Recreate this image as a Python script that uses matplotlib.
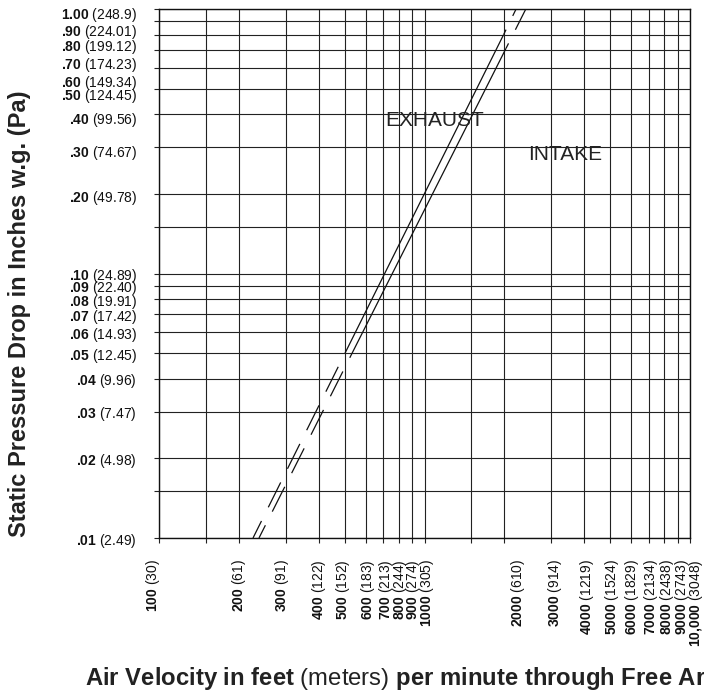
import matplotlib
matplotlib.use('Agg')
import matplotlib.pyplot as plt
import matplotlib.transforms as mtransforms
from matplotlib.ticker import FixedLocator, FixedFormatter, NullFormatter, NullLocator

plt.rcParams['font.family'] = ['Liberation Sans', 'DejaVu Sans']
plt.rcParams['mathtext.fontset'] = 'custom'
# math "rm" is used for the bold parts of the mixed-weight labels
plt.rcParams['mathtext.rm'] = 'Liberation Sans:bold'
plt.rcParams['mathtext.bf'] = 'Liberation Sans:bold'
plt.rcParams['mathtext.it'] = 'Liberation Sans:italic'
plt.rcParams['lines.scale_dashes'] = False

# ---------------- data ----------------
# grid lines (feet per minute / inches w.g.)
velocity_grid = [100, 150, 200, 300, 400, 500, 600, 700, 800, 900, 1000,
                 1500, 2000, 3000, 4000, 5000, 6000, 7000, 8000, 9000, 10000]
pressure_grid = [0.01, 0.015, 0.02, 0.03, 0.04, 0.05, 0.06, 0.07, 0.08, 0.09, 0.1,
                 0.15, 0.2, 0.3, 0.4, 0.5, 0.6, 0.7, 0.8, 0.9, 1.0]

# x tick labels
velocity_fpm = ['100', '200', '300', '400', '500', '600', '700', '800', '900', '1000',
                '2000', '3000', '4000', '5000', '6000', '7000', '8000', '9000', '10,000']
velocity_mpm = ['30', '61', '91', '122', '152', '183', '213', '244', '274', '305',
                '610', '914', '1219', '1524', '1829', '2134', '2438', '2743', '3048']
velocity_label_pos = [95, 200, 291, 400, 493, 612, 716, 808, 905, 1022,
                      2249, 3101, 4093, 5084, 6046, 7129, 8185, 9333, 10535]

# y tick labels
pressure_in = ['1.00', '.90', '.80', '.70', '.60', '.50', '.40', '.30', '.20',
               '.10', '.09', '.08', '.07', '.06', '.05', '.04', '.03', '.02', '.01']
pressure_pa = ['248.9', '224.01', '199.12', '174.23', '149.34', '124.45', '99.56', '74.67', '49.78',
               '24.89', '22.40', '19.91', '17.42', '14.93', '12.45', '9.96', '7.47', '4.98', '2.49']
pressure_label_pos = [0.966, 0.840, 0.731, 0.626, 0.535, 0.478, 0.388, 0.291, 0.197,
                      0.1, 0.09, 0.08, 0.07, 0.06, 0.05, 0.04, 0.03, 0.02, 0.01]

# curves: points (bottom, solid start, solid end, top)
exhaust_v = [226, 502, 1986, 2213]
exhaust_p = [0.01, 0.05, 0.80, 1.0]
intake_v = [238, 523, 2028, 2408]
intake_p = [0.01, 0.048, 0.71, 1.0]

# ---------------- figure ----------------
W, H = 704, 694
fig = plt.figure(figsize=(W / 100, H / 100), dpi=100)
ax = fig.add_axes([159 / W, 1 - 538 / H, (690 - 159) / W, (538 - 9) / H])
ax.set_xscale('log')
ax.set_yscale('log')
ax.set_xlim(100, 10000)
ax.set_ylim(0.01, 1.0)

ax.xaxis.remove_overlapping_locs = False
ax.yaxis.remove_overlapping_locs = False

# x: grid/ticks only at grid values, labels as separate texts
ax.xaxis.set_major_locator(FixedLocator(velocity_grid))
ax.xaxis.set_major_formatter(NullFormatter())
ax.xaxis.set_minor_locator(NullLocator())

# y: labels via major ticks, grid via minor ticks
ax.yaxis.set_major_locator(FixedLocator(pressure_label_pos))
ax.yaxis.set_major_formatter(FixedFormatter(
    [r'$\text{%s}$ (%s)' % (a, b) for a, b in zip(pressure_in, pressure_pa)]))
ax.yaxis.set_minor_locator(FixedLocator(pressure_grid))
ax.yaxis.set_minor_formatter(NullFormatter())

ax.tick_params(axis='x', which='major', length=3.6, width=0.8, direction='out', color='#222222')
ax.tick_params(axis='y', which='major', length=0, pad=16, labelsize=10, labelcolor='#111111')
ax.tick_params(axis='y', which='minor', length=3.6, width=0.8, direction='out', color='#222222')

ax.grid(False)
ax.xaxis.grid(True, which='major', color='#222222', linewidth=0.8)
ax.yaxis.grid(True, which='minor', color='#222222', linewidth=0.8)
for s in ax.spines.values():
    s.set_linewidth(1.0)
    s.set_color('#111111')

xlab_tr = mtransforms.blended_transform_factory(ax.transData, ax.transAxes)
for pos, a, b in zip(velocity_label_pos, velocity_fpm, velocity_mpm):
    ax.text(pos, -21 / 529, r'$\text{%s}$ (%s)' % (a, b), transform=xlab_tr,
            rotation=90, ha='center', va='top', fontsize=10, color='#111111', clip_on=False)

line_kw = dict(color='#111111', linewidth=0.9)
for v, p in ((exhaust_v, exhaust_p), (intake_v, intake_p)):
    # solid middle part
    ax.plot(v[1:3], p[1:3], solid_capstyle='butt', **line_kw)
    # lower dashed part (drawn from the solid end downward, starting with a gap)
    ax.plot([v[1], v[0]], [p[1], p[0]], linestyle=(20, (20, 11)), dash_capstyle='butt', **line_kw)
    # upper dashed part
    ax.plot([v[2], v[3]], [p[2], p[3]], linestyle=(16, (20, 11)), dash_capstyle='butt', **line_kw)

ax.text(709.7, 0.3795, 'EXHAUST', fontsize=15, color='#222222', ha='left', va='center')
ax.text(2453, 0.2825, 'INTAKE', fontsize=15, color='#222222', ha='left', va='center')

fig.text(20 / W, 1 - 314 / H, 'Static Pressure Drop in Inches w.g. (Pa)',
         rotation=90, ha='center', va='center', fontsize=17, fontweight='bold', color='#222222')
fig.text(85 / W, 1 - 685 / H,
         r'$\text{Air Velocity in feet}$ (meters) $\text{per minute through Free Area}$',
         ha='left', va='baseline', fontsize=17.2, color='#222222')

fig.savefig('out.png', dpi=100)
